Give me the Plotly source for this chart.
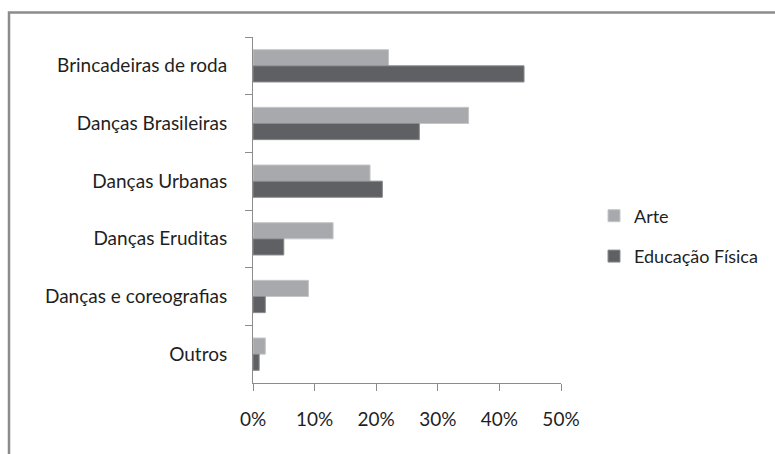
import plotly.graph_objects as go

categories = ["Brincadeiras de roda", "Danças Brasileiras", "Danças Urbanas", "Danças Eruditas",
              "Danças e coreografias", "Outros"]
arte = [0.22, 0.35, 0.19, 0.13, 0.09, 0.02]
ed_fisica = [0.44, 0.27, 0.21, 0.05, 0.02, 0.01]
x_ticks = [0, 0.1, 0.2, 0.3, 0.4, 0.5]
x_tick_labels = ["0%", "10%", "20%", "30%", "40%", "50%"]

W, H = 775, 454
L, R, T, B = 253, 214, 37, 71
pw, ph = W - L - R, H - T - B

def px(x):
    return (x - L) / pw

def py(y):
    return (H - B - y) / ph

FONT = "Lato"
FS = 19
TXT = "#1f1f1f"
fig = go.Figure()
fig.add_trace(go.Bar(y=categories, x=arte, orientation="h", name="Arte",
                     marker=dict(color="#a7a9ac", line=dict(color="#c4c6c8", width=1)),
                     legendgroup="a"))
fig.add_trace(go.Bar(y=categories, x=ed_fisica, orientation="h", name="Educação Física",
                     marker=dict(color="#5f6064", line=dict(color="#8a8b8e", width=1)),
                     legendgroup="b"))

fig.update_layout(
    width=W, height=H,
    margin=dict(l=L, r=R, t=T, b=B, pad=0, autoexpand=False),
    paper_bgcolor="white", plot_bgcolor="white",
    barmode="group", bargap=0.44, bargroupgap=0,
    font=dict(family=FONT, size=FS, color=TXT),
    showlegend=True,
    legend=dict(x=594 / W, y=1 - 236 / H, xref="container", yref="container",
                xanchor="left", yanchor="middle",
                font=dict(size=18, color=TXT), tracegroupgap=14,
                traceorder="grouped", itemwidth=30, bgcolor="rgba(0,0,0,0)"),
    xaxis=dict(range=[0, 0.5], tickvals=x_ticks, ticktext=x_tick_labels,
               showgrid=False, zeroline=False, showline=True, linecolor="#8c8c8c",
               linewidth=1, ticks="outside", ticklen=7, tickcolor="#8c8c8c",
               ticklabelstandoff=12, fixedrange=True, automargin=False),
    yaxis=dict(autorange="reversed", showgrid=False, zeroline=False, showline=True,
               linecolor="#8c8c8c", linewidth=1, ticks="outside", ticklen=7,
               tickcolor="#8c8c8c", tickson="boundaries", ticklabelstandoff=21,
               fixedrange=True, automargin=False),
    shapes=[dict(type="rect", xref="paper", yref="paper",
                 x0=px(9), x1=px(790), y0=py(470), y1=py(12.5),
                 line=dict(color="#8c8c8c", width=2.5), fillcolor="rgba(0,0,0,0)", layer="below")],
)

fig.write_html("out.html")
